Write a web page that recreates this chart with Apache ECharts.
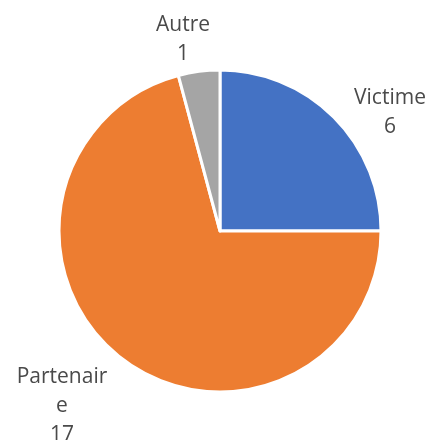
<!DOCTYPE html>
<html>
<head>
<meta charset="utf-8">
<script src="https://cdn.jsdelivr.net/npm/echarts@6/dist/echarts.min.js"></script>
<style>
  html, body { margin: 0; padding: 0; background: #fff; }
  #chart { width: 433px; height: 440px; }
</style>
</head>
<body>
<div id="chart"></div>
<script>
// données
var categories = ['Victime', 'Partenaire', 'Autre'];
var values = [6, 17, 1];
var colors = ['#4472C4', '#ED7D31', '#A5A5A5'];

// positions des étiquettes (centre du bloc de texte)
var labelPos = [[390, 113], [62, 406], [183, 40]];

var myChart = echarts.init(document.getElementById('chart'));

var option = {
    animation: false,
    series: [{
        type: 'pie',
        center: [220, 231],
        radius: 161,
        startAngle: 90,
        clockwise: true,
        data: categories.map(function (name, i) {
            return { name: name, value: values[i], itemStyle: { color: colors[i] } };
        }),
        itemStyle: {
            borderColor: '#fff',
            borderWidth: 3
        },
        label: {
            show: true,
            position: 'outside',
            color: '#4a4a4a',
            fontSize: 21,
            lineHeight: 29,
            fontFamily: 'Open Sans',
            align: 'center',
            overflow: 'none',
            formatter: function (p) {
                var name = p.name;
                // coupure comme dans Excel
                if (name.length > 9) name = name.slice(0, 9) + '\n' + name.slice(9);
                return name + '\n' + p.value;
            }
        },
        labelLine: { show: false },
        labelLayout: function (params) {
            var pos = labelPos[params.dataIndex];
            return { x: pos[0], y: pos[1], align: 'center', verticalAlign: 'middle' };
        }
    }]
};
myChart.setOption(option);
</script>
</body>
</html>
